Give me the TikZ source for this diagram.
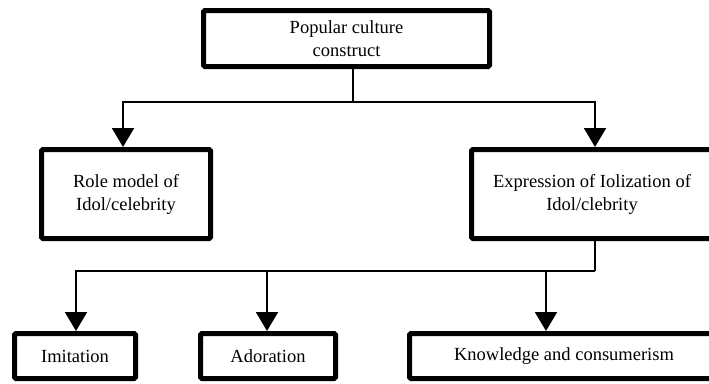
\documentclass[tikz,border=0pt]{standalone}
\usepackage{fontspec}
\setmainfont{Liberation Serif}
\usetikzlibrary{arrows.meta}
\begin{document}
\begin{tikzpicture}[x=1pt,y=1pt,
  box/.style={draw=black, line width=5pt, rounded corners=1.5pt, inner sep=0pt,
    align=center, font=\fontsize{18.5}{23}\selectfont},
  conn/.style={draw=black, line width=2pt},
  arr/.style={conn, -{Triangle[width=22pt,length=19pt]}}]
\useasboundingbox (0,0) rectangle (709,-383);
\clip (0,0) rectangle (709,-383);
\fill[white] (0,0) rectangle (709,-383);
\node[box, minimum width=286pt, minimum height=56pt] (top) at (346.5,-38.5) {Popular culture\\construct};
\node[box, minimum width=169pt, minimum height=89pt] (left) at (126,-194) {Role model of\\Idol/celebrity};
\node[box, minimum width=241pt, minimum height=89pt] (right) at (592,-194) {Expression of Iolization of\\Idol/clebrity};
\node[box, minimum width=121pt, minimum height=45pt] (imit) at (75,-356) {Imitation};
\node[box, minimum width=135pt, minimum height=45pt] (ador) at (268,-356) {Adoration};
\node[box, minimum width=309pt, minimum height=45pt] (know) at (564,-356) {Knowledge and consumerism};
\coordinate (bus1) at (353,-102);
\coordinate (bus2) at (595,-271);
\draw[conn] ([xshift=6.5pt]top.south) -- (bus1);
\draw[arr] (bus1) -| ([xshift=-3pt]left.north);
\draw[arr] (bus1) -| ([xshift=3pt]right.north);
\draw[conn] ([xshift=3pt]right.south) -- (bus2);
\draw[arr] (bus2) -| ([xshift=1pt]imit.north);
\draw[arr] (bus2) -| ([xshift=-1pt]ador.north);
\draw[arr] (bus2) -| ([xshift=-18pt]know.north);
\end{tikzpicture}
\end{document}
